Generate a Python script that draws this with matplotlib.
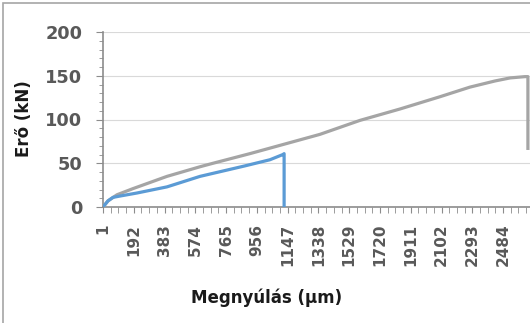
import matplotlib
matplotlib.use("Agg")
import matplotlib.pyplot as plt
from matplotlib.patches import Rectangle
import numpy as np

# ---- data --------------------------------------------------------------------
# gray curve (longer specimen), x = elongation (µm), y = force (kN)
gray_x = [1, 32, 88, 187, 398, 603, 684, 913, 1130, 1347, 1596, 1844, 2092,
          2278, 2433, 2527, 2620, 2638, 2638]
gray_y = [0, 7, 14, 21, 35, 46, 50, 61, 72, 83, 99, 112, 126,
          137, 144, 147.5, 149, 149, 67]
# blue curve (breaks early)
blue_x = [1, 32, 63, 106, 212, 398, 603, 882, 1037, 1118, 1125, 1125]
blue_y = [0, 7, 11, 12.5, 16, 23, 35, 47, 54, 60, 61, 0]

x_labels = [1, 192, 383, 574, 765, 956, 1147, 1338, 1529, 1720, 1911,
            2102, 2293, 2484]
y_ticks = [0, 50, 100, 150, 200]

BLUE = "#5B9BD5"; GRAY = "#A5A5A5"; AXC = "#8c8c8c"; TXT = "#595959"

W, H = 530, 323
fig = plt.figure(figsize=(W / 100, H / 100), dpi=100)
ax = fig.add_axes([103 / W, 1 - 207 / H, (530 - 103) / W, (207 - 32) / H])

ax.plot(gray_x, gray_y, color=GRAY, lw=2.3, solid_joinstyle="round", zorder=3)
ax.plot(blue_x, blue_y, color=BLUE, lw=2.3, solid_joinstyle="round", zorder=3)

ax.set_xlim(1, 2651)
ax.set_ylim(0, 200)

ax.set_yticks(y_ticks)
ax.set_yticks(np.arange(0, 201, 10), minor=True)
ax.set_xticks(x_labels)
ax.set_xticklabels([str(v) for v in x_labels], rotation=90)
ax.set_xticks(np.arange(1, 2651, 191 / 4), minor=True)

ax.grid(axis="y", color="#d9d9d9", lw=0.8)
ax.set_axisbelow(True)
for s in ["top", "right"]:
    ax.spines[s].set_visible(False)
for s in ["left", "bottom"]:
    ax.spines[s].set_color(AXC)
    ax.spines[s].set_linewidth(1.2)

ax.tick_params(axis="y", which="both", color=AXC, direction="out")
ax.tick_params(axis="y", which="major", length=5, pad=10, labelsize=12.8,
               labelcolor=TXT)
ax.tick_params(axis="y", which="minor", length=3)
ax.tick_params(axis="x", which="both", color=AXC, direction="out", length=4)
ax.tick_params(axis="x", which="major", pad=8, labelsize=11, labelcolor=TXT)
for lab in ax.get_xticklabels() + ax.get_yticklabels():
    lab.set_fontweight("bold")

fig.text(24 / W, 1 - 119 / H, "Erő (kN)", rotation=90, ha="center", va="center",
         fontsize=12, fontweight="bold", color="#1a1a1a")
fig.text(267 / W, 1 - 298 / H, "Megnyúlás (µm)", ha="center", va="center",
         fontsize=12, fontweight="bold", color="#1a1a1a")

# outer chart border (cropped at right/bottom)
fig.patches.append(Rectangle((3 / W, -0.1), 1.2, 1 - 3 / H + 0.1,
                             transform=fig.transFigure, fill=False,
                             edgecolor="#a6a6a6", lw=1.2))

fig.savefig("out.png", dpi=100)
